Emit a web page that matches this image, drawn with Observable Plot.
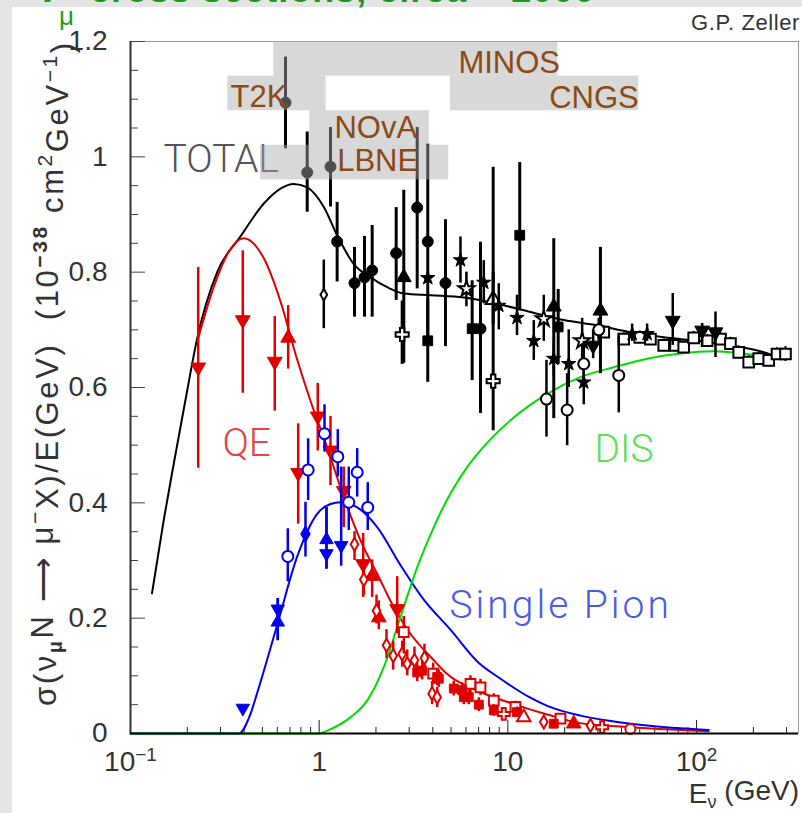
<!DOCTYPE html>
<html>
<head>
<meta charset="utf-8">
<script src="https://cdn.jsdelivr.net/npm/d3@7"></script>
<script src="https://cdn.jsdelivr.net/npm/@observablehq/plot@0.6"></script>
<style>
  html, body { margin: 0; padding: 0; width: 802px; height: 813px; overflow: hidden; background: #e5e5e5; }
  #panel { position: absolute; left: 12px; top: 7px; width: 790px; height: 806px; background: #fff; }
  #chart { position: absolute; left: 0; top: 0; }
  #title { position: absolute; left: 38px; top: -31px; line-height: 33px; white-space: nowrap; letter-spacing: 1px;
           font: 700 36px "Liberation Sans", Arial, sans-serif; color: #1d9a1d; }
  #title .sub { position: relative; top: 23px; margin-right: 4px; font-size: 26px; font-weight: 400; }
  #author { position: absolute; right: 2px; top: 10px; line-height: 22px; letter-spacing: 0.6px;
            font: 22px "Liberation Sans", Arial, sans-serif; color: #333; }
  .xs g[aria-label="x-axis tick label"], .xs g[aria-label="y-axis tick label"] { fill: #333; }
</style>
</head>
<body>
<div id="panel"></div>
<div id="chart"></div>
<div id="title">ν<span class="sub">μ</span> cross sections, circa ~ 2000</div>
<div id="author">G.P. Zeller</div>
<script>
// ---- Theory curves: σ/E in 10^-38 cm²/GeV versus neutrino energy E in GeV ----
const totalE     = [0.13, 0.15, 0.17, 0.196, 0.226, 0.288, 0.383, 0.509, 0.624, 0.733, 0.864, 1.058, 1.245, 1.525, 1.87, 2.293, 2.808, 3.89, 5.84, 8.78, 13.18, 19.78, 29.7, 44.6, 67, 100.7, 151.2, 227, 267];
const totalSigma = [0.243, 0.37, 0.47, 0.58, 0.686, 0.80, 0.862, 0.919, 0.945, 0.953, 0.947, 0.913, 0.864, 0.814, 0.791, 0.774, 0.763, 0.760, 0.756, 0.745, 0.731, 0.717, 0.708, 0.696, 0.687, 0.681, 0.673, 0.661, 0.653];

const qeE     = [0.226, 0.276, 0.331, 0.398, 0.509, 0.624, 0.765, 0.899, 1.103, 1.35, 1.655, 2.03, 2.485, 3.046, 4.05, 4.77, 7.16, 10.75, 16.16, 24.25, 44.6, 82.2, 116];
const qeSigma = [0.68, 0.774, 0.835, 0.859, 0.824, 0.749, 0.648, 0.577, 0.496, 0.41, 0.335, 0.277, 0.219, 0.173, 0.127, 0.103, 0.072, 0.051, 0.033, 0.018, 0.011, 0.006, 0.004];

const pionE     = [0.1, 0.375, 0.4325, 0.469, 0.599, 0.765, 0.976, 1.148, 1.297, 1.59, 2.03, 2.697, 3.584, 4.963, 6.88, 9.14, 13, 16.16, 24.25, 36.4, 54.7, 82.2, 116];
const pionSigma = [0, 0, 0.034, 0.07, 0.188, 0.307, 0.381, 0.398, 0.401, 0.392, 0.358, 0.292, 0.232, 0.18, 0.125, 0.095, 0.063, 0.048, 0.031, 0.021, 0.014, 0.009, 0.006];

const disE     = [0.1, 1.0, 1.103, 1.465, 1.797, 2.2, 2.697, 3.307, 4.05, 4.963, 6.085, 7.16, 10.75, 16.16, 24.25, 36.4, 54.7, 82.2, 123.4, 185.4, 256.5];
const disSigma = [0, 0, 0.005, 0.028, 0.057, 0.115, 0.202, 0.288, 0.358, 0.416, 0.462, 0.491, 0.548, 0.589, 0.618, 0.635, 0.65, 0.659, 0.663, 0.658, 0.65];

// ---- Measurements: [E, σ/E, error low, error high] ----
// total cross section
const totCircleFilled = [[0.663, 1.094, 1.014, 1.173], [0.864, 0.973, 0.904, 1.043], [1.148, 0.983, 0.913, 1.051], [1.245, 0.853, 0.783, 0.921], [1.539, 0.781, 0.722, 0.843], [1.739, 0.791, 0.722, 0.862], [1.909, 0.803, 0.722, 0.881], [2.559, 0.833, 0.751, 0.912], [3.307, 0.912, 0.771, 1.051], [3.762, 0.853, 0.684, 1.022], [4.67, 0.781, 0.671, 0.891], [7.16, 0.702, 0.555, 0.852]];
const totSquareFilled = [[3.762, 0.681, 0.609, 0.753], [6.469, 0.702, 0.612, 0.785], [11.56, 0.864, 0.733, 0.99], [18.48, 0.705, 0.64, 0.77]];
const totTriangleUp   = [[2.808, 0.791, 0.642, 0.942], [17.51, 0.74, 0.546, 0.858], [30.95, 0.733, 0.624, 0.843]];
const totTriangleOpen = [[8.36, 0.752, 0.71, 0.8]];
const totStarFilled   = [[3.762, 0.79, 0.79, 0.79], [5.608, 0.821, 0.781, 0.861], [7.455, 0.782, 0.745, 0.82], [8.95, 0.742, 0.7, 0.78], [11.18, 0.721, 0.69, 0.76], [13.72, 0.681, 0.647, 0.716], [17.51, 0.65, 0.62, 0.68], [21.02, 0.641, 0.6, 0.7], [25.25, 0.609, 0.57, 0.65], [45.57, 0.693, 0.68, 0.71], [54.7, 0.693, 0.68, 0.71]];
const totStarOpen     = [[6.03, 0.771, 0.74, 0.8], [15.5, 0.719, 0.68, 0.76], [24.76, 0.681, 0.64, 0.72]];
const totCrossOpen    = [[2.753, 0.692, 0.64, 0.75], [8.36, 0.611, 0.525, 0.982]];
const totCircleOpen   = [[16.02, 0.58, 0.514, 0.647], [20.62, 0.561, 0.499, 0.624], [25.25, 0.641, 0.6, 0.68], [30.32, 0.7, 0.68, 0.72], [38.7, 0.621, 0.556, 0.69]];
const totDiamondOpen  = [[1.058, 0.761, 0.702, 0.821]];
const totTriangleDown = [[28.31, 0.673, 0.65, 0.7], [74.8, 0.716, 0.673, 0.763], [107.1, 0.699, 0.673, 0.711], [126, 0.696, 0.652, 0.731]];
const totSquareOpen   = [[32.23, 0.696, 0.685, 0.707], [41.13, 0.684, 0.673, 0.695], [50, 0.687, 0.676, 0.698], [56.97, 0.684, 0.673, 0.695], [67, 0.673, 0.662, 0.684], [77.3, 0.673, 0.662, 0.684], [85.5, 0.67, 0.659, 0.681], [96.6, 0.686, 0.675, 0.697], [113.8, 0.681, 0.67, 0.692], [133.9, 0.684, 0.673, 0.695], [151.2, 0.676, 0.665, 0.687], [167.3, 0.661, 0.65, 0.672], [189, 0.644, 0.633, 0.655], [213.6, 0.65, 0.639, 0.661], [241.3, 0.647, 0.636, 0.658], [267, 0.658, 0.647, 0.669], [296, 0.658, 0.645, 0.671]];

// quasi-elastic
const qeTriangleDown = [[0.2285, 0.635, 0.46, 0.808], [0.3937, 0.717, 0.59, 0.837], [0.5815, 0.645, 0.559, 0.723], [0.774, 0.452, 0.363, 0.537], [0.983, 0.55, 0.49, 0.607], [1.148, 0.491, 0.43, 0.55], [1.35, 0.421, 0.357, 0.462], [1.711, 0.294, 0.236, 0.347], [2.59, 0.216, 0.173, 0.272]];
const qeTriangleUp   = [[0.685, 0.686, 0.632, 0.742], [1.909, 0.273, 0.236, 0.301], [2.07, 0.201, 0.18, 0.23], [22.35, 0.017, 0.012, 0.022]];
const qeDiamondOpen  = [[1.539, 0.328, 0.3, 0.35], [1.723, 0.267, 0.24, 0.3], [2.013, 0.213, 0.19, 0.24], [2.274, 0.153, 0.13, 0.18], [2.468, 0.135, 0.11, 0.16], [2.753, 0.138, 0.115, 0.16], [2.927, 0.121, 0.1, 0.145], [3.199, 0.127, 0.105, 0.15], [3.614, 0.131, 0.11, 0.155], [3.969, 0.069, 0.05, 0.09], [4.221, 0.063, 0.045, 0.08], [15.5, 0.02, 0.014, 0.026], [27.4, 0.014, 0.009, 0.019]];
const qeSquareOpen   = [[2.808, 0.176, 0.138, 0.203], [4.018, 0.104, 0.085, 0.122], [6.336, 0.086, 0.07, 0.1], [7.16, 0.08, 0.066, 0.094], [8.42, 0.057, 0.045, 0.069], [10.97, 0.046, 0.036, 0.056], [19, 0.026, 0.018, 0.034]];
const qeSquareFilled = [[3.307, 0.106, 0.09, 0.122], [3.514, 0.109, 0.093, 0.125], [4.221, 0.098, 0.083, 0.113], [4.304, 0.095, 0.08, 0.11], [5.168, 0.078, 0.065, 0.091], [5.726, 0.075, 0.062, 0.088], [5.84, 0.063, 0.05, 0.076], [6.205, 0.063, 0.05, 0.076], [7.013, 0.05, 0.038, 0.062], [8.42, 0.04, 0.03, 0.05], [11.18, 0.037, 0.028, 0.046], [17.51, 0.017, 0.011, 0.023]];
const qeCrossOpen    = [[9.51, 0.034, 0.026, 0.042], [31.6, 0.011, 0.006, 0.016]];
const qeTriangleOpen = [[12.14, 0.028, 0.021, 0.035]];
const qeCircleOpen   = [[44.6, 0.008, 0.004, 0.012]];

// single pion
const pionCircleOpen    = [[1.067, 0.52, 0.488, 0.57], [1.255, 0.48, 0.445, 0.527], [0.874, 0.457, 0.404, 0.511], [1.59, 0.453, 0.41, 0.494], [1.435, 0.401, 0.352, 0.462], [1.809, 0.392, 0.352, 0.435], [0.682, 0.307, 0.263, 0.355]];
const pionDiamondFilled = [[0.846, 0.346, 0.306, 0.401]];
const pionTriangleUp    = [[1.093, 0.336, 0.285, 0.392], [0.6034, 0.193, 0.161, 0.234]];
const pionTriangleDown  = [[1.093, 0.312, 0.285, 0.392], [1.308, 0.326, 0.29, 0.462], [0.6034, 0.216, 0.161, 0.234], [0.3937, 0.044, 0.044, 0.044]];

// experiment energy ranges
const expName  = ["MINOS", "T2K", "CNGS", "NOvA", "LBNE"];
const expEmin  = [0.574, 0.328, 4.96, 0.892, 0.489];
const expEmax  = [18.4, 1.089, 49.4, 3.83, 4.86];
const expLow   = [1.14, 1.08, 1.08, 1.02, 0.96];
const expHigh  = [1.2, 1.14, 1.14, 1.08, 1.02];
const expLabelE     = [18.9, 0.339, 49.4, 1.205, 1.245];
const expLabelSigma = [1.146, 1.086, 1.085, 1.033, 0.976];
const expLabelRight = [true, false, true, false, false];

// curve labels
const curveLabel = ["TOTAL", "QE", "DIS", "Single Pion"];
const curveLabelE = [0.1496, 0.307, 28.8, 4.9];
const curveLabelSigma = [0.973, 0.482, 0.47, 0.201];
const curveLabelColor = ["#555555", "#e84444", "#62dd55", "#4a5ce6"];

// axes
const xTicksMajor = [0.1, 1, 10, 100];
const xTickLabels = ["10⁻¹", "1", "10", "10²"];
const yTicksMajor = [0, 0.2, 0.4, 0.6, 0.8, 1.0, 1.2];
const yTickLabels = ["0", "0.2", "0.4", "0.6", "0.8", "1", "1.2"];

const xMinor = [];
for (const dec of [0.1, 1, 10, 100]) for (let k = 2; k <= 9; k++) if (dec * k < 347) xMinor.push(dec * k);
const yMinor = [];
for (let k = 1; k < 24; k++) if (k % 4 !== 0) yMinor.push(k * 0.05);

const curve = (E, S) => E.map((e, i) => ({E: e, v: S[i]}));
const rows = (a) => a.map(([E, v, lo, hi]) => ({E, v, lo, hi}));

const RED = "#e00000", BLUE = "#0000ee", GREEN = "#00dd00", BLACK = "#000000";

function points(data, color, {symbol = "circle", open = false, r = 5, rotate = 0, bar = 2.5} = {}) {
  const d = rows(data);
  return [
    Plot.ruleX(d, {x: "E", y1: "lo", y2: "hi", stroke: color, strokeWidth: bar}),
    Plot.dot(d, {x: "E", y: "v", symbol, r, rotate,
      fill: open ? "white" : color, stroke: color, strokeWidth: open ? 2 : 1})
  ];
}

const exps = expName.map((n, i) => ({n, x1: expEmin[i], x2: expEmax[i], y1: expLow[i], y2: expHigh[i],
  lx: expLabelE[i], ly: expLabelSigma[i], right: expLabelRight[i]}));
const labels = curveLabel.map((t, i) => ({t, x: curveLabelE[i], y: curveLabelSigma[i], c: curveLabelColor[i]}));

const expText = {x: "lx", y: "ly", text: "n", lineAnchor: "bottom", fill: "#8b4a16", fontSize: 31};

const plot = Plot.plot({
  width: 802,
  height: 813,
  marginLeft: 130,
  marginRight: 4,
  marginTop: 41,
  marginBottom: 80,
  className: "xs",
  style: {background: "transparent", fontFamily: "'Liberation Sans', Arial, sans-serif", overflow: "visible"},
  x: {type: "log", domain: [0.1, 347], label: null},
  y: {domain: [0, 1.2], label: null},
  marks: [
    // frame and ticks
    Plot.ruleY([1.2], {stroke: "#9a9a9a", strokeWidth: 1}),
    Plot.ruleX([347], {stroke: "#9a9a9a", strokeWidth: 1}),
    Plot.tickX(xMinor, {x: d => d, insetTop: 686, stroke: "#222", strokeWidth: 1}),
    Plot.tickX(xTicksMajor, {x: d => d, insetTop: 679, stroke: "#222", strokeWidth: 1}),
    Plot.tickY(yMinor, {y: d => d, insetRight: 660, stroke: "#444", strokeWidth: 1}),
    Plot.tickY(yTicksMajor, {y: d => d, insetRight: 653, stroke: "#444", strokeWidth: 1}),
    Plot.axisX({ticks: xTicksMajor, tickSize: 0, tickPadding: 18, fontSize: 28,
      tickFormat: d => xTickLabels[xTicksMajor.indexOf(d)]}),
    Plot.axisY({ticks: yTicksMajor, tickSize: 0, tickPadding: 23, fontSize: 28,
      tickFormat: d => yTickLabels[yTicksMajor.indexOf(d)]}),

    // theory curves
    Plot.line(curve(totalE, totalSigma), {x: "E", y: "v", stroke: BLACK, strokeWidth: 2, curve: "monotone-x"}),
    Plot.line(curve(qeE, qeSigma), {x: "E", y: "v", stroke: RED, strokeWidth: 2, curve: "monotone-x"}),
    Plot.line(curve(pionE, pionSigma), {x: "E", y: "v", stroke: BLUE, strokeWidth: 2, curve: "monotone-x"}),
    Plot.line(curve(disE, disSigma), {x: "E", y: "v", stroke: GREEN, strokeWidth: 2, curve: "monotone-x"}),

    // total cross-section data
    ...points(totSquareOpen, BLACK, {symbol: "square", open: true, r: 6, bar: 2}),
    ...points(totCircleFilled, BLACK, {r: 5.5, bar: 3}),
    ...points(totSquareFilled, BLACK, {symbol: "square", r: 5.5, bar: 3}),
    ...points(totTriangleUp, BLACK, {symbol: "triangle", r: 5.5, bar: 3}),
    ...points(totTriangleOpen, BLACK, {symbol: "triangle", open: true, r: 5.5, bar: 3}),
    ...points(totStarFilled, BLACK, {symbol: "star", r: 4.5, bar: 2.5}),
    ...points(totStarOpen, BLACK, {symbol: "star", open: true, r: 5, bar: 2.5}),
    ...points(totCrossOpen, BLACK, {symbol: "cross", open: true, r: 5.5, bar: 3}),
    ...points(totCircleOpen, BLACK, {open: true, r: 5.5, bar: 2.5}),
    ...points(totDiamondOpen, BLACK, {symbol: "diamond", open: true, r: 3.5, bar: 2.5}),
    ...points(totTriangleDown, BLACK, {symbol: "triangle", rotate: 180, r: 5.5, bar: 2.5}),

    // quasi-elastic data
    ...points(qeTriangleDown, RED, {symbol: "triangle", rotate: 180, r: 5.5}),
    ...points(qeTriangleUp, RED, {symbol: "triangle", r: 5.5}),
    ...points(qeDiamondOpen, RED, {symbol: "diamond", open: true, r: 4}),
    ...points(qeSquareOpen, RED, {symbol: "square", open: true, r: 5.5}),
    ...points(qeSquareFilled, RED, {symbol: "square", r: 5}),
    ...points(qeCrossOpen, RED, {symbol: "cross", open: true, r: 5}),
    ...points(qeTriangleOpen, RED, {symbol: "triangle", open: true, r: 5}),
    ...points(qeCircleOpen, RED, {open: true, r: 5}),

    // single pion data
    ...points(pionCircleOpen, BLUE, {open: true, r: 5.5}),
    ...points(pionDiamondFilled, BLUE, {symbol: "diamond", r: 5}),
    ...points(pionTriangleUp, BLUE, {symbol: "triangle", r: 5}),
    ...points(pionTriangleDown, BLUE, {symbol: "triangle", rotate: 180, r: 5}),

    // axes lines
    Plot.ruleX([0.1], {stroke: "#333", strokeWidth: 2}),
    Plot.ruleY([0], {stroke: "#000", strokeWidth: 2}),

    // curve labels
    Plot.text(labels, {x: "x", y: "y", text: "t", fill: "c", textAnchor: "start", lineAnchor: "bottom",
      fontSize: 39, fontWeight: 300, fontFamily: "Roboto, 'Liberation Sans', sans-serif"}),

    // experiment bands
    Plot.rect(exps, {x1: "x1", x2: "x2", y1: "y1", y2: "y2", fill: "#a9a9a9", fillOpacity: 0.46}),
    Plot.text(exps.filter(d => d.right), {...expText, textAnchor: "end"}),
    Plot.text(exps.filter(d => !d.right), {...expText, textAnchor: "start"})
  ]
});

document.getElementById("chart").append(plot);

const svg = d3.select(plot.tagName === "svg" ? plot : plot.querySelector("svg"));

// superscripts on x tick labels
svg.selectAll('g[aria-label="x-axis tick label"] text').each(function () {
  const t = d3.select(this);
  const s = t.text();
  const sup = s === "10⁻¹" ? "−1" : s === "10²" ? "2" : null;
  if (sup) {
    t.text("10");
    t.append("tspan").attr("dy", "-0.55em").attr("font-size", "19px").text(sup);
  }
});

// wider spacing for the pion label
svg.selectAll("text").filter(function () { return this.textContent === "Single Pion"; })
  .attr("letter-spacing", "3px");

// axis titles
const ylab = svg.append("text")
  .attr("transform", "translate(56,706) rotate(-90)")
  .attr("text-anchor", "start")
  .attr("letter-spacing", "2.6px")
  .attr("font-size", 31).attr("fill", "#333")
  .attr("font-family", "'Liberation Sans', Arial, sans-serif");
const seg = (txt, opt = {}) => {
  const s = ylab.append("tspan").text(txt);
  if (opt.dy) s.attr("dy", opt.dy);
  if (opt.size) s.attr("font-size", opt.size);
  if (opt.weight) s.attr("font-weight", opt.weight);
  return s;
};
seg("σ(ν");
seg("μ", {dy: "0.3em", size: 20, weight: 700});
seg("N ⟶ μ", {dy: "-0.3em"});
seg("−", {dy: "-0.5em", size: 21});
seg("X)/E(GeV)  (10", {dy: "0.5em"});
seg("−38", {dy: "-0.5em", size: 21, weight: 700});
seg(" cm", {dy: "0.5em"});
seg("2", {dy: "-0.5em", size: 21});
seg("GeV", {dy: "0.5em"});
seg("−1", {dy: "-0.5em", size: 21});
seg(")", {dy: "0.5em"});

const xlab = svg.append("text")
  .attr("x", 799).attr("y", 803).attr("text-anchor", "end")
  .attr("font-size", 28).attr("fill", "#333")
  .attr("font-family", "'Liberation Sans', Arial, sans-serif");
xlab.append("tspan").text("E");
xlab.append("tspan").attr("dy", "0.3em").attr("font-size", 18).text("ν");
xlab.append("tspan").attr("dy", "-0.3em").text(" (GeV)");
</script>
</body>
</html>
